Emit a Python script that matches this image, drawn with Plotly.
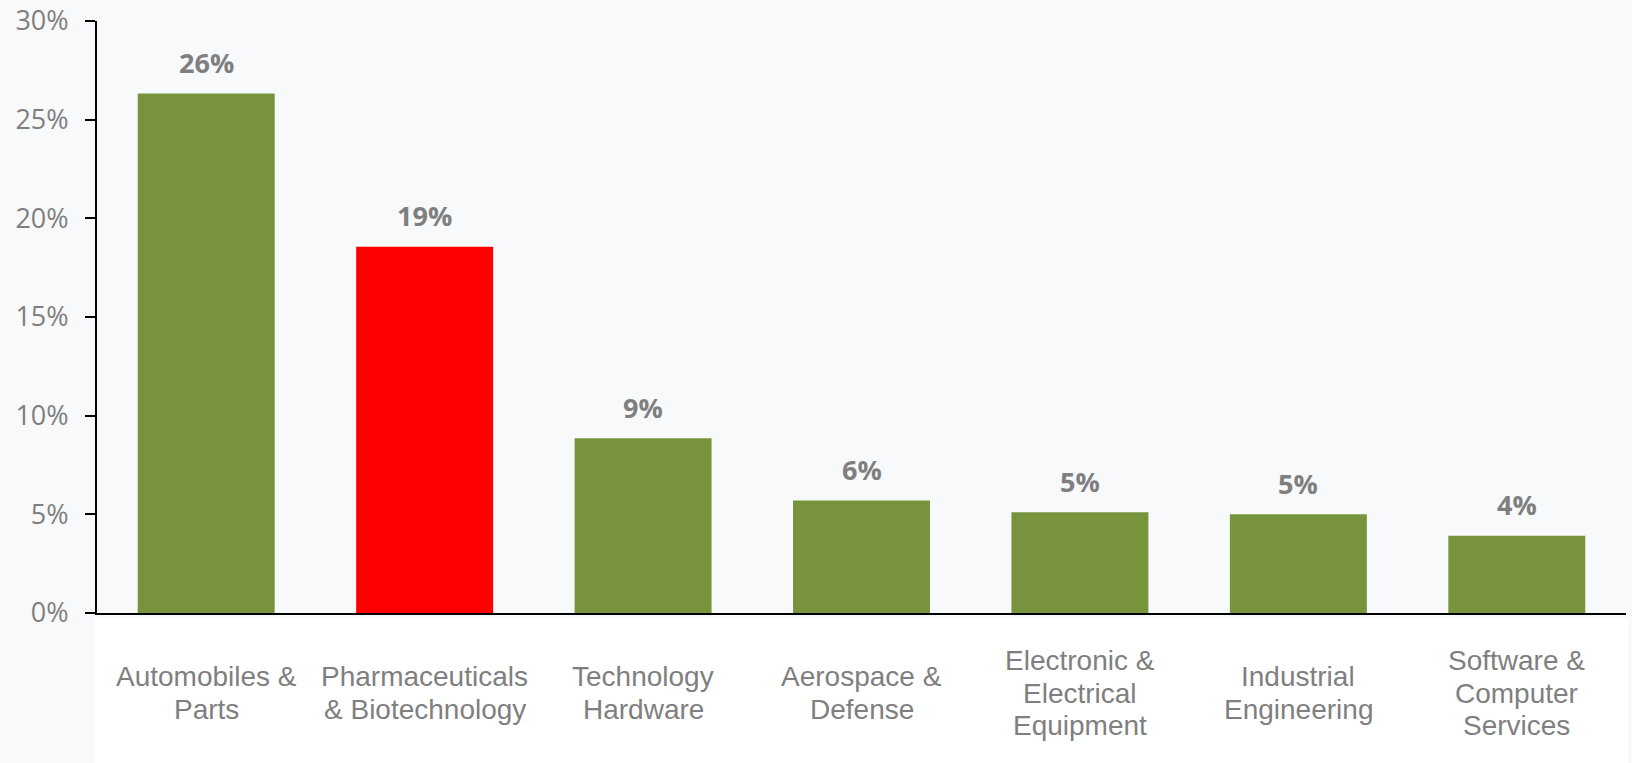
import plotly.graph_objects as go

categories = [
    "Automobiles &<br>Parts",
    "Pharmaceuticals<br>& Biotechnology",
    "Technology<br>Hardware",
    "Aerospace &<br>Defense",
    "Electronic &<br>Electrical<br>Equipment",
    "Industrial<br>Engineering",
    "Software &<br>Computer<br>Services",
]
values = [0.2633, 0.1856, 0.0886, 0.0570, 0.0511, 0.0501, 0.0392]
labels = ["26%", "19%", "9%", "6%", "5%", "5%", "4%"]
bar_colors = ["#77933C", "#FF0000", "#77933C", "#77933C", "#77933C", "#77933C", "#77933C"]
y_ticks = [0, 0.05, 0.10, 0.15, 0.20, 0.25, 0.30]
y_ticklabels = ["0%", "5%", "10%", "15%", "20%", "25%", "30%"]

BG = "#F8F9FB"
GREY = "#7F7F7F"

fig = go.Figure()
fig.add_trace(go.Bar(
    x=list(range(len(categories))),
    y=values,
    marker=dict(color=bar_colors, line=dict(width=0)),
    hoverinfo="skip",
))

annotations = []
# data labels
for i, (v, t) in enumerate(zip(values, labels)):
    annotations.append(dict(
        x=i, y=v, xref="x", yref="y", text="<b>" + t + "</b>",
        showarrow=False, yanchor="middle", xanchor="center", yshift=31,
        font=dict(family="Open Sans", size=27, color=GREY),
    ))
# category labels, one annotation per line
line_gap = 32.5
block_center = 693 - 613
for i, c in enumerate(categories):
    lines = c.split("<br>")
    n = len(lines)
    for j, ln in enumerate(lines):
        py = block_center + (j - (n - 1) / 2) * line_gap
        annotations.append(dict(
            x=i, y=0, xref="x", yref="paper", text=ln,
            showarrow=False, yanchor="middle", xanchor="center", yshift=-py,
            font=dict(family="Liberation Sans, Arial", size=28, color=GREY),
        ))

fig.update_layout(
    width=1632, height=763,
    margin=dict(l=97, r=6, t=21, b=150, pad=0, autoexpand=False),
    paper_bgcolor=BG, plot_bgcolor=BG,
    showlegend=False,
    bargap=0.373,
    annotations=annotations,
    shapes=[dict(
        type="rect", xref="paper", yref="paper",
        x0=-2 / 1529, x1=1 + 2 / 1529, y0=-5 / 592, y1=-0.3,
        fillcolor="#FFFFFF", line=dict(width=0), layer="below",
    )],
    xaxis=dict(
        range=[-0.5, len(categories) - 0.5],
        showline=True, linecolor="#000000", linewidth=2,
        showticklabels=False, ticks="", showgrid=False, zeroline=False,
        automargin=False,
    ),
    yaxis=dict(
        range=[0, 0.30],
        tickvals=y_ticks, ticktext=y_ticklabels,
        showline=True, linecolor="#000000", linewidth=2,
        ticks="outside", ticklen=10, tickwidth=2, tickcolor="#000000",
        showgrid=False, zeroline=False, automargin=False,
        tickfont=dict(family="Open Sans", size=27, color=GREY),
        ticklabelstandoff=11,
    ),
)

fig.write_html("out.html")
